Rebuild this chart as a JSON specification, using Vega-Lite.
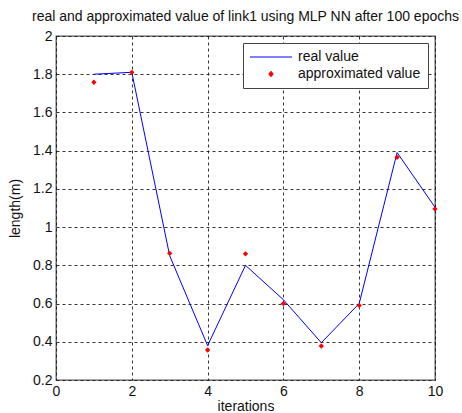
{
  "$schema": "https://vega.github.io/schema/vega-lite/v6.json",
  "width": 379,
  "height": 344,
  "autosize": {"type": "none"},
  "padding": {"left": 56, "top": 36, "right": 27, "bottom": 33},
  "background": "white",
  "title": {
    "text": "real and approximated value of link1 using MLP NN after 100 epochs",
    "font": "Liberation Sans",
    "fontSize": 14,
    "fontWeight": "normal",
    "color": "#111",
    "anchor": "middle",
    "offset": 5
  },
  "data": {
    "values": [
      {"iter": 1, "series": "real value", "value": 1.80},
      {"iter": 2, "series": "real value", "value": 1.81},
      {"iter": 3, "series": "real value", "value": 0.85},
      {"iter": 4, "series": "real value", "value": 0.38},
      {"iter": 5, "series": "real value", "value": 0.80},
      {"iter": 6, "series": "real value", "value": 0.62},
      {"iter": 7, "series": "real value", "value": 0.395},
      {"iter": 8, "series": "real value", "value": 0.60},
      {"iter": 9, "series": "real value", "value": 1.39},
      {"iter": 10, "series": "real value", "value": 1.104},
      {"iter": 1, "series": "approximated value", "value": 1.758},
      {"iter": 2, "series": "approximated value", "value": 1.81},
      {"iter": 3, "series": "approximated value", "value": 0.863},
      {"iter": 4, "series": "approximated value", "value": 0.357},
      {"iter": 5, "series": "approximated value", "value": 0.86},
      {"iter": 6, "series": "approximated value", "value": 0.60},
      {"iter": 7, "series": "approximated value", "value": 0.378},
      {"iter": 8, "series": "approximated value", "value": 0.59},
      {"iter": 9, "series": "approximated value", "value": 1.365},
      {"iter": 10, "series": "approximated value", "value": 1.095}
    ]
  },
  "encoding": {
    "x": {
      "field": "iter",
      "type": "quantitative",
      "scale": {"domain": [0, 10], "nice": false, "zero": false},
      "axis": {"title": "iterations", "values": [0, 2, 4, 6, 8, 10], "format": "d", "labelFlush": false}
    },
    "y": {
      "field": "value",
      "type": "quantitative",
      "scale": {"domain": [0.2, 2], "nice": false, "zero": false},
      "axis": {"title": "length(m)", "values": [0.2, 0.4, 0.6, 0.8, 1, 1.2, 1.4, 1.6, 1.8, 2], "format": "~r", "labelFlush": false}
    },
    "color": {
      "field": "series",
      "type": "nominal",
      "scale": {"domain": ["real value", "approximated value"], "range": ["#0000ff", "#ff0000"]},
      "legend": {
        "title": null,
        "orient": "top-right",
        "offset": 7,
        "symbolSize": 100,
        "symbolStrokeWidth": 1,
        "labelOffset": 34,
        "encode": {
          "symbols": {
            "update": {
              "shape": {"signal": "datum.value === 'real value' ? 'M-1.4,0H7' : 'M2.8,-0.55L3.25,0L2.8,0.55L2.35,0Z'"},
              "size": {"value": 100},
              "stroke": {"scale": "color", "field": "value"},
              "strokeWidth": {"value": 1},
              "fill": {"signal": "datum.value === 'real value' ? 'transparent' : '#ff0000'"}
            }
          }
        }
      }
    }
  },
  "layer": [
    {
      "transform": [{"filter": "datum.series === 'real value'"}],
      "mark": {"type": "line", "strokeWidth": 1}
    },
    {
      "transform": [{"filter": "datum.series === 'approximated value'"}],
      "mark": {"type": "point", "shape": "diamond", "filled": true, "size": 28, "opacity": 1}
    }
  ],
  "config": {
    "font": "Liberation Sans",
    "view": {"stroke": "#555", "strokeWidth": 1.3},
    "axis": {
      "domain": false,
      "ticks": false,
      "grid": true,
      "gridColor": "#111",
      "gridDash": [3, 3],
      "gridWidth": 1,
      "gridOpacity": 0.85,
      "labelFont": "Liberation Sans",
      "labelFontSize": 14,
      "labelColor": "#111",
      "labelPadding": 4,
      "titleFont": "Liberation Sans",
      "titleFontSize": 14,
      "titleFontWeight": "normal",
      "titleColor": "#111"
    },
    "axisX": {"labelPadding": 4, "titlePadding": 1},
    "axisY": {"titlePadding": 10},
    "legend": {
      "fillColor": "white",
      "strokeColor": "#444",
      "padding": 7,
      "cornerRadius": 0,
      "labelFont": "Liberation Sans",
      "labelFontSize": 14,
      "labelColor": "#111",
      "rowPadding": 3
    }
  }
}
